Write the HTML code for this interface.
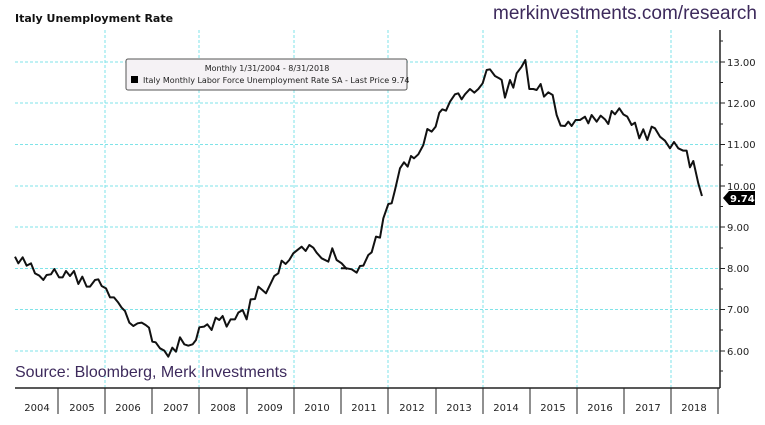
<!DOCTYPE html>
<html><head><meta charset="utf-8"><style>
body{margin:0;background:#fff;width:765px;height:420px;overflow:hidden}
</style></head><body>
<svg width="765" height="420" xmlns="http://www.w3.org/2000/svg" font-family="'DejaVu Sans','Liberation Sans',sans-serif">
<rect width="765" height="420" fill="#fff"/>
<g stroke="#7fe3e8" stroke-width="1" stroke-dasharray="3,2">
<line x1="15" y1="62" x2="720" y2="62"/><line x1="15" y1="103" x2="720" y2="103"/><line x1="15" y1="144.5" x2="720" y2="144.5"/><line x1="15" y1="186" x2="720" y2="186"/><line x1="15" y1="227" x2="720" y2="227"/><line x1="15" y1="268.5" x2="720" y2="268.5"/><line x1="15" y1="309.5" x2="720" y2="309.5"/><line x1="15" y1="351" x2="720" y2="351"/>
<line x1="105" y1="30" x2="105" y2="388"/><line x1="199" y1="30" x2="199" y2="388"/><line x1="294" y1="30" x2="294" y2="388"/><line x1="388" y1="30" x2="388" y2="388"/><line x1="483" y1="30" x2="483" y2="388"/><line x1="577" y1="30" x2="577" y2="388"/><line x1="671" y1="30" x2="671" y2="388"/>
</g>
<text x="15" y="22" font-size="11" font-weight="bold" fill="#111">Italy Unemployment Rate</text>
<text x="757" y="19" font-size="19" fill="#3d2a5c" text-anchor="end" font-family="'Liberation Sans',sans-serif">merkinvestments.com/research</text>
<rect x="126" y="59" width="281" height="31" rx="2" fill="#f5f2f5" stroke="#555"/>
<text x="267" y="71" font-size="8" text-anchor="middle" fill="#222">Monthly 1/31/2004 - 8/31/2018</text>
<rect x="131" y="76" width="7" height="7" fill="#000"/>
<text x="143" y="83" font-size="8" fill="#222">Italy Monthly Labor Force Unemployment Rate SA - Last Price  9.74</text>
<g fill="none" stroke="#111" stroke-width="2" stroke-linejoin="round">
<polyline vector-effect="non-scaling-stroke" transform="translate(0,180) scale(0.3333)" points="45,230 55,250 68,232 80,257 93,250 105,280 118,287 130,300 140,285 153,283 163,267 177,292 188,292 198,273 210,288 222,273 235,312 247,290 260,320 270,320 285,300 295,298 305,318 318,325 330,352 342,352 355,368 365,383 375,393 388,428 400,438 413,430 425,428 437,435 447,443 457,485 467,487 480,505 493,512 505,530 517,503 528,515 540,472 553,493 565,497 578,493 588,480 598,442 612,440 622,433 635,450 647,413 658,420 668,408 680,440 692,418 705,418 715,398 728,390 740,418 752,358 765,357 775,320 787,330 798,340 823,288 835,280 845,242 857,252 868,240 880,220 895,208 905,200 917,213 928,195 940,203 950,218 965,235 985,245 997,205 1010,240 1025,250 1041,268"/>
<polyline vector-effect="non-scaling-stroke" transform="translate(340,50) scale(0.3333)" points="3,655 20,655 35,658 50,668 60,648 70,647 85,615 95,607 108,560 120,563 130,505 145,462 155,460 165,420 180,355 192,337 203,350 213,318 222,325 235,313 250,285 262,237 275,245 287,230 298,188 307,178 318,182 330,155 345,133 355,130 365,148 375,133 390,117 403,128 415,117 428,100 440,60 450,58 465,78 478,85 485,90 495,143 510,90 520,113 530,70 545,50 556,30 568,117 580,117 590,120 602,102 612,140 625,127 638,135 650,195 662,227 675,228 685,215 695,228 707,210 720,210 735,200 745,220 755,195 770,215 782,197 795,208 805,222 815,183 825,193 838,175 850,193 862,200 875,225 885,218 898,265 910,238 922,270 935,230 945,235 960,260 975,272 990,295 1002,276 1015,295 1030,302 1040,302 1050,352 1060,333 1075,400 1086,438"/>
</g>
<text x="15" y="377" font-size="16" fill="#3d2a5c" font-family="'Liberation Sans',sans-serif">Source: Bloomberg, Merk Investments</text>
<g stroke="#222" stroke-width="1.5">
<line x1="15" y1="388" x2="720" y2="388"/>
<line x1="720" y1="30" x2="720" y2="388"/>
</g>
<g stroke="#222" stroke-width="1">
<line x1="58" y1="388" x2="58" y2="414"/><line x1="105" y1="388" x2="105" y2="414"/><line x1="152" y1="388" x2="152" y2="414"/><line x1="199" y1="388" x2="199" y2="414"/><line x1="247" y1="388" x2="247" y2="414"/><line x1="294" y1="388" x2="294" y2="414"/><line x1="341" y1="388" x2="341" y2="414"/><line x1="388" y1="388" x2="388" y2="414"/><line x1="436" y1="388" x2="436" y2="414"/><line x1="483" y1="388" x2="483" y2="414"/><line x1="530" y1="388" x2="530" y2="414"/><line x1="577" y1="388" x2="577" y2="414"/><line x1="624" y1="388" x2="624" y2="414"/><line x1="671" y1="388" x2="671" y2="414"/><line x1="718" y1="388" x2="718" y2="414"/>
<line x1="720" y1="62" x2="725" y2="62"/><line x1="720" y1="103" x2="725" y2="103"/><line x1="720" y1="144.5" x2="725" y2="144.5"/><line x1="720" y1="186" x2="725" y2="186"/><line x1="720" y1="227" x2="725" y2="227"/><line x1="720" y1="268.5" x2="725" y2="268.5"/><line x1="720" y1="309.5" x2="725" y2="309.5"/><line x1="720" y1="351" x2="725" y2="351"/>
<line x1="720" y1="41" x2="723" y2="41"/><line x1="720" y1="82.5" x2="723" y2="82.5"/><line x1="720" y1="124" x2="723" y2="124"/><line x1="720" y1="165" x2="723" y2="165"/><line x1="720" y1="206.5" x2="723" y2="206.5"/><line x1="720" y1="248" x2="723" y2="248"/><line x1="720" y1="289" x2="723" y2="289"/><line x1="720" y1="330" x2="723" y2="330"/><line x1="720" y1="371" x2="723" y2="371"/>
</g>
<g font-size="10" fill="#222">
<text x="727" y="66">13.00</text><text x="727" y="107">12.00</text><text x="727" y="148">11.00</text><text x="727" y="190">10.00</text><text x="727" y="231">9.00</text><text x="727" y="272">8.00</text><text x="727" y="313">7.00</text><text x="727" y="355">6.00</text>
</g>
<polygon points="723,198 729,191 755,191 755,205 729,205" fill="#000"/>
<text x="730" y="202" font-size="10" font-weight="bold" fill="#fff">9.74</text>
<g font-size="10" fill="#222" text-anchor="middle">
<text x="37" y="411">2004</text><text x="82" y="411">2005</text><text x="128" y="411">2006</text><text x="176" y="411">2007</text><text x="223" y="411">2008</text><text x="270" y="411">2009</text><text x="317" y="411">2010</text><text x="364" y="411">2011</text><text x="412" y="411">2012</text><text x="459" y="411">2013</text><text x="506" y="411">2014</text><text x="553" y="411">2015</text><text x="600" y="411">2016</text><text x="648" y="411">2017</text><text x="694" y="411">2018</text>
</g>
</svg>
</body></html>
